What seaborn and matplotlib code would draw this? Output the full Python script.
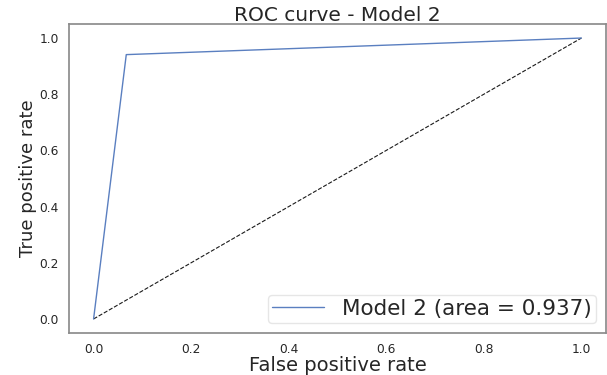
import matplotlib
matplotlib.use("Agg")
import matplotlib.pyplot as plt
import seaborn as sns
import pandas as pd

# ROC points for Model 2
fpr = [0.0, 0.067, 1.0]
tpr = [0.0, 0.941, 1.0]
chance = [0.0, 1.0]
auc_value = 0.937
model_name = "Model 2"

sns.set_theme(style="white")
plt.rcParams["font.family"] = ["DejaVu Sans"]

fig, ax = plt.subplots(figsize=(6.07, 3.75), dpi=100)
fig.subplots_adjust(left=0.114, right=0.998, top=0.936, bottom=0.112)

ax.plot(chance, chance, "k--", lw=0.8)
roc = pd.DataFrame({"fpr": fpr, "tpr": tpr})
sns.lineplot(data=roc, x="fpr", y="tpr", ax=ax, color="#5a7fc0", lw=1.0,
             sort=False, estimator=None,
             label=f"{model_name} (area = {auc_value:.3f})")

ax.set_xlabel("False positive rate", fontsize=14, labelpad=0)
ax.set_ylabel("True positive rate", fontsize=13, labelpad=2)
ax.set_title(f"ROC curve - {model_name}", fontsize=14.5, pad=2.5)
ax.tick_params(labelsize=8.8, pad=1.5)
for s in ax.spines.values():
    s.set_color("0.55")
leg = ax.legend(loc="lower right", fontsize=15.5, handlelength=2.4,
                handletextpad=0.85, borderpad=0.2, borderaxespad=0.45)
leg.get_frame().set_edgecolor("0.88")

fig.savefig("out.png", dpi=100)
